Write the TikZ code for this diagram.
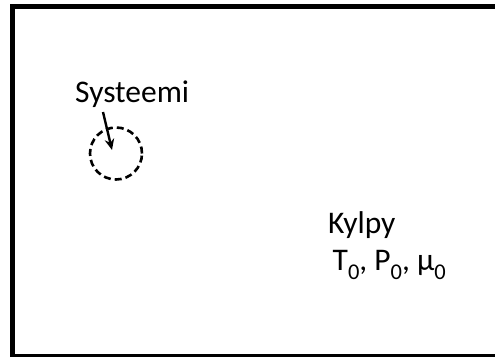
\documentclass[tikz,border=0pt]{standalone}
\usepackage{fontspec}
\setmainfont{Carlito}
\usetikzlibrary{arrows.meta}
\tikzset{
x=1pt, y=-1pt, % work in points, y grows downwards
every node/.style={inner sep=0pt, font=\fontsize{31.5}{37}\selectfont}, % size of all labels
bath/.style={line width=5.5pt}, % the heavy outer frame
system/.style={circle, draw, line width=2.6pt, dash pattern=on 7pt off 4pt, minimum size=52pt}, % dashed boundary of the system
pointer/.style={-{Stealth[length=11pt, width=9.5pt]}, line width=2.4pt}, % arrow from the label
}
% lowered small digit for the state variables
\newcommand{\low}[1]{\raisebox{-9.5pt}{\fontsize{22.5}{22.5}\selectfont #1}}

\begin{document}
\begin{tikzpicture}
    \useasboundingbox (0,0) rectangle (495,356);
    \clip (0,0) rectangle (495,356);
    \draw[bath] (12.5,6.5) rectangle (500,357);

    \node[system] (sys) at (116,153.5) {};
    \node[anchor=base west] (systeemi) at (75,102) {Systeemi};
    \coordinate (from) at (103,112);
    \coordinate (tip) at (112,150);
    \draw[pointer] (from) -- (tip);

    \node[anchor=base west] (kylpy) at (328,233) {Kylpy};
    \node[anchor=base west] (tila) at (332.5,270) {T\low{0}, P\low{0}, μ\low{0}};
\end{tikzpicture}
\end{document}
